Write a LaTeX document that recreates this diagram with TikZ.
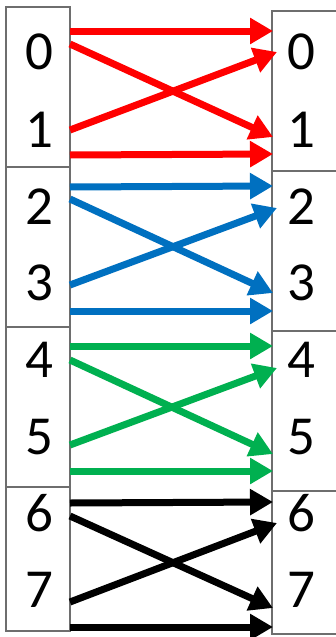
\documentclass[tikz,border=0pt]{standalone}
\usepackage{fontspec}
\setmainfont{Carlito}
\usetikzlibrary{arrows.meta}
\definecolor{xred}{RGB}{255,0,0}
\definecolor{xblue}{RGB}{0,112,192}
\definecolor{xgreen}{RGB}{0,176,80}
\definecolor{xgrey}{RGB}{110,110,110}
\tikzset{
  box/.style={draw=xgrey, line width=1.2pt, fill=white, rectangle, inner sep=0pt, outer sep=0pt, minimum width=#1},
  digit/.style={font=\fontsize{55}{55}\selectfont, anchor=base, inner sep=0pt},
  conn/.style={line width=7pt, -{Triangle[length=23pt,width=25pt]}},
}
\begin{document}
\begin{tikzpicture}[x=1pt,y=-1pt]
\useasboundingbox[fill=white] (0,0) rectangle (335,637);
% left boxes
\node[box=64pt, minimum height=160pt] (LB0) at (38,87) {};
\node[box=64pt, minimum height=160pt] (LB1) at (38,247) {};
\node[box=64pt, minimum height=160pt] (LB2) at (38,407) {};
\node[box=64pt, minimum height=144pt] (LB3) at (38,559) {};
% right boxes
\node[box=73pt, minimum height=160pt] (RB0) at (308.5,91) {};
\node[box=73pt, minimum height=160pt] (RB1) at (308.5,251) {};
\node[box=73pt, minimum height=160pt] (RB2) at (308.5,411) {};
\node[box=73pt, minimum height=143pt] (RB3) at (308.5,562.5) {};
% digits
\foreach \d/\y in {0/69.5,1/147,2/224,3/300,4/377,5/454,6/531,7/607}{
  \node[digit] (L\d) at (39,\y) {\d};
  \node[digit] (R\d) at (301,\y) {\d};
}
% connector end points
\foreach \g/\c/\ta/\tb/\da/\db/\ua/\ub/\ba/\bb in {
  0/xred/31/31/44/137/130/52/155/154,
  1/xblue/187/186/199/293/285/208/311/311,
  2/xgreen/346/346/360/454/445/368/471/471,
  3/black/503/502/516/608/602/523/627/627}{
  \coordinate (s\g t) at (70,\ta);  \coordinate (e\g t) at (273,\tb);
  \coordinate (s\g d) at (70,\da);  \coordinate (e\g d) at (273,\db);
  \coordinate (s\g u) at (70,\ua);  \coordinate (e\g u) at (277,\ub);
  \coordinate (s\g b) at (70,\ba);  \coordinate (e\g b) at (273,\bb);
  \draw[conn, draw=\c, fill=\c] (s\g t) -- (e\g t);
  \draw[conn, draw=\c, fill=\c] (s\g d) -- (e\g d);
  \draw[conn, draw=\c, fill=\c] (s\g u) -- (e\g u);
  \draw[conn, draw=\c, fill=\c] (s\g b) -- (e\g b);
}
\end{tikzpicture}
\end{document}
